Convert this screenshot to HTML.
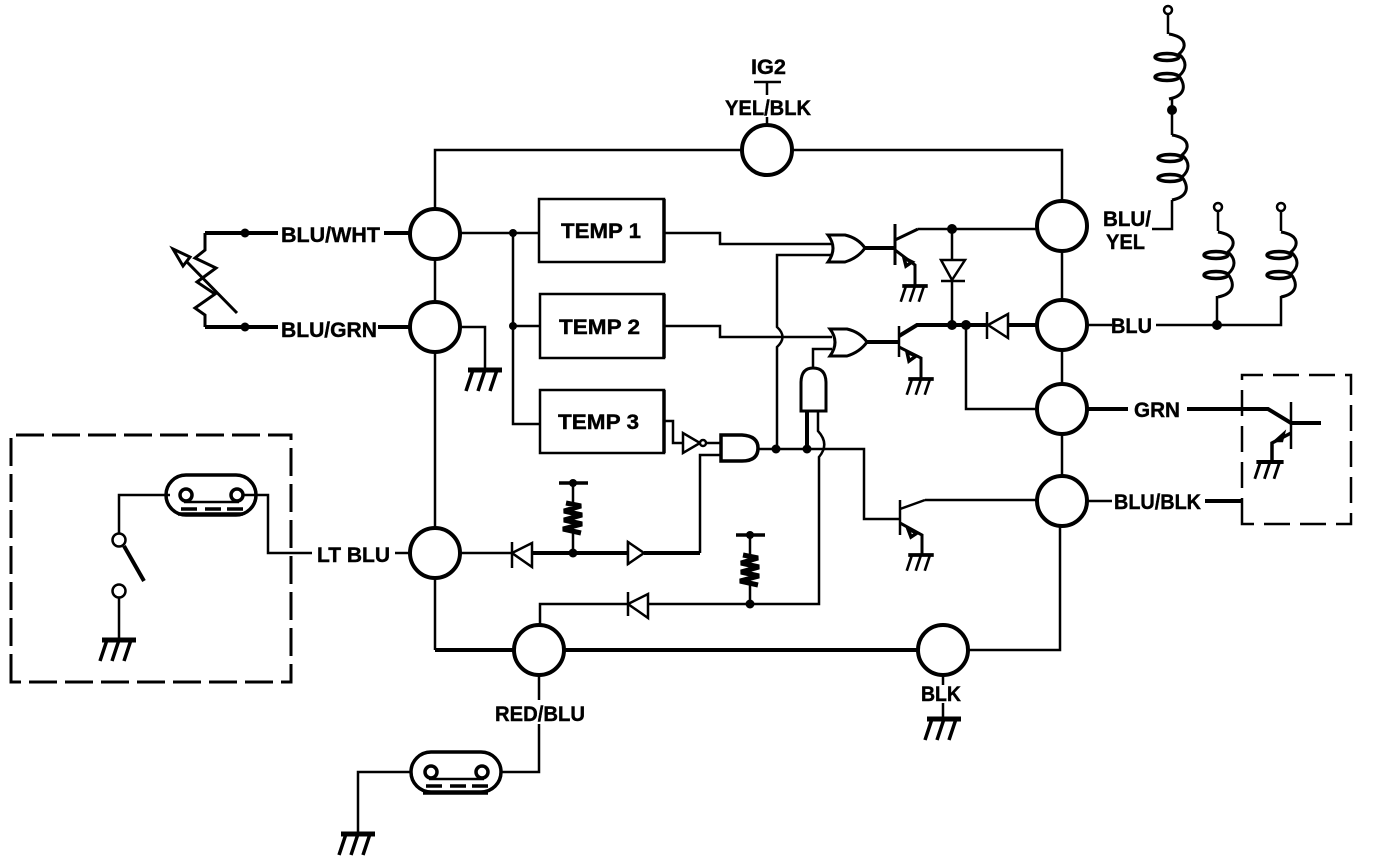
<!DOCTYPE html>
<html>
<head>
<meta charset="utf-8">
<style>
html,body{margin:0;padding:0;background:#fff;}
svg{display:block;}
text{font-family:"Liberation Sans",sans-serif;font-weight:bold;font-size:21px;fill:#000;stroke:#000;stroke-width:.4px;}
</style>
</head>
<body>
<svg width="1376" height="860" viewBox="0 0 1376 860" xmlns="http://www.w3.org/2000/svg">
<defs>
<g id="gnd">
<line x1="-17" y1="0" x2="17" y2="0" stroke-width="5"/>
<line x1="-12" y1="0" x2="-19" y2="21" stroke-width="3.5"/>
<line x1="0" y1="0" x2="-7" y2="21" stroke-width="3.5"/>
<line x1="12" y1="0" x2="5" y2="21" stroke-width="3.5"/>
</g>
<g id="coil">
<path d="M0,0 C15,-3 18,-12 10,-23 C18,-30 18,-38 10,-45 C18,-52 18,-62 0,-65" fill="none"/>
<ellipse cx="-2" cy="-22" rx="12" ry="3.5" fill="#fff" stroke-width="3.5"/>
<ellipse cx="-2" cy="-42" rx="12" ry="3.5" fill="#fff" stroke-width="3.5"/>
</g>
<g id="conn">
<rect x="0" y="0" width="90" height="40" rx="20" fill="none" stroke-width="3.5"/>
<circle cx="20" cy="20" r="6" fill="#fff" stroke-width="3.5"/>
<circle cx="71" cy="20" r="6" fill="#fff" stroke-width="3.5"/>
<line x1="18" y1="27" x2="73" y2="27" stroke-width="2.5"/>
<line x1="15" y1="34" x2="31" y2="34" stroke-width="3.5"/>
<line x1="39" y1="34" x2="55" y2="34" stroke-width="3.5"/>
<line x1="61" y1="34" x2="77" y2="34" stroke-width="3.5"/>
</g>
<g id="res">
<path d="M-7,0 L8,3 L-9,8 L9,12 L-9,17 L9,21 L-10,26 L8,30" fill="none" stroke-width="5"/>
</g>
</defs>

<g fill="none" stroke="#000" stroke-width="2.5">
<!-- main wires -->
<path d="M435,209V150H742M792,150H1062V201"/>
<path d="M435,259V302M435,352V528"/>
<path d="M1062,251V300M1062,350V384M1062,434V476"/>
<path d="M968,650H1060V526"/>
<path d="M435,578V650" />
<path d="M460,233H539M513,233V424H540M513,326H540"/>
<path d="M460,327H485V369"/>
<path d="M664,233H720V244H832"/>
<path d="M777,449V347Q788,337 777,327V255H832"/>
<path d="M664,326H720V337H832"/>
<path d="M813,368V349H832"/>
<path d="M664,421H673V443H683M706,443H721"/>
<path d="M758,449H864V519H899"/>
<path d="M818,411V431Q830,444 819,457V604H648M628,604H540V625"/>
<path d="M721,455H700V553"/>
<path d="M460,553H512"/>
<path d="M573,483V503M573,533V553"/>
<path d="M750,535V555M750,585V604"/>
<path d="M952,229V260M952,281V324"/>
<path d="M966,325V409H1037"/>
<path d="M918,229H1037"/>
<path d="M925,500H1037"/>
<path d="M1152,229H1172V200M1172,135V98"/>
<path d="M1168,34V14"/>
<path d="M1218,211V231M1281,211V231"/>
<path d="M1217,296V325M1281,296V325H1156"/>
<path d="M119,537V495H170M244,495H268V553H312"/>
<path d="M119,597V640"/>
<path d="M395,553H410"/>
<path d="M539,675V700M539,724V772H500M411,772H358V834"/>
<path d="M943,675V685M943,703V718"/>
<path d="M767,82V95M767,117V125"/>
<path d="M1087,325H1112M1112,501H1087"/>

<!-- thick wires -->
<g stroke-width="4">
<path d="M435,650H514M564,650H918"/>
<path d="M205,233H278M384,233H410"/>
<path d="M205,327H278M378,327H410"/>
<path d="M532,553H628M644,553H700"/>
<path d="M865,248H895M867,342H899M899,336L917,325H952"/>
<path d="M952,325H987M1008,325H1037"/>
<path d="M807,411V449"/>
<path d="M1087,409H1128M1187,409H1268L1291,423H1321"/>
<path d="M1205,501H1242"/>
<path d="M124,546L144,581"/>
</g>

<!-- circles -->
<g stroke-width="4" fill="#fff">
<circle cx="767" cy="150" r="25"/>
<circle cx="435" cy="234" r="25"/>
<circle cx="435" cy="327" r="25"/>
<circle cx="435" cy="553" r="25"/>
<circle cx="1062" cy="226" r="25"/>
<circle cx="1062" cy="325" r="25"/>
<circle cx="1062" cy="409" r="25"/>
<circle cx="1062" cy="501" r="25"/>
<circle cx="539" cy="650" r="25"/>
<circle cx="943" cy="650" r="25"/>
</g>

<!-- boxes -->
<g stroke-width="2.5">
<rect x="539" y="199" width="125" height="63"/>
<rect x="540" y="294" width="124" height="64"/>
<rect x="540" y="390" width="124" height="63"/>
</g>
<path d="M664,199V262M664,294V358M664,390V453" stroke-width="3.5"/>

<!-- OR gates -->
<path d="M828,235H845Q858,238 865,248Q858,258 845,262H828Q838,248 828,235Z" fill="#fff" stroke-width="3"/>
<path d="M830,329H847Q860,332 867,342Q860,352 847,356H830Q840,342 830,329Z" fill="#fff" stroke-width="3"/>
<!-- AND gates -->
<path d="M801,411V383Q801,368 813,368Q826,368 826,383V411Z" fill="#fff" stroke-width="3"/>
<path d="M721,435H742Q758,436 758,448Q758,461 742,461H721Z" fill="#fff" stroke-width="3.5"/>
<!-- inverter -->
<path d="M683,433V453L700,443Z" fill="#fff"/>
<circle cx="703" cy="443" r="3" fill="#fff"/>

<!-- transistors -->
<path d="M895,224V265" stroke-width="3"/>
<path d="M895,240L918,229M895,250L915,265V285" stroke-width="3"/>
<path d="M904,258L912,262L906,266Z" stroke-width="3.5"/>
<path d="M899,326V357" stroke-width="2.5"/>
<path d="M899,347L921,358V378" stroke-width="3"/>
<path d="M907,352L916,356L909,361Z" stroke-width="3.5"/>
<path d="M900,500V535" stroke-width="2.5"/>
<path d="M900,509L925,500"/>
<path d="M900,523L922,535V555" stroke-width="3"/>
<path d="M908,529L917,533L911,537Z" stroke-width="3.5"/>
<path d="M1291,402V449" stroke-width="2.5"/>
<path d="M1291,433L1272,443V462" stroke-width="3.5"/>
<path d="M1275,441L1284,433L1282,441Z" stroke-width="2.5"/>

<!-- grounds -->
<use href="#gnd" x="485" y="370"/>
<use href="#gnd" x="119" y="640"/>
<use href="#gnd" x="358" y="834"/>
<use href="#gnd" x="944" y="719"/>
<use href="#gnd" transform="translate(915,286) scale(.75)"/>
<use href="#gnd" transform="translate(921,379) scale(.75)"/>
<use href="#gnd" transform="translate(921,555) scale(.75)"/>
<use href="#gnd" transform="translate(1270,462) scale(.8)"/>

<!-- diodes -->
<path d="M941,260H965L952,280Z" fill="#fff"/>
<path d="M941,281H965M987,312V339M512,542V568M628,541V565M628,592V616"/>
<path d="M988,325L1008,314V338Z" fill="#fff"/>
<path d="M512,553L532,543V567Z" fill="#fff"/>
<path d="M628,542L644,553L628,564Z" fill="#fff"/>
<path d="M628,604L648,594V618Z" fill="#fff"/>

<!-- resistors -->
<use href="#res" x="573" y="503"/>
<use href="#res" x="750" y="555"/>
<path d="M559,483H588M736,535H765" stroke-width="3.5"/>
<path d="M754,82H781"/>

<!-- thermistor -->
<path d="M205,233V250L195,258L216,268L197,282L215,294L195,308L205,315V327" stroke-width="3"/>
<path d="M237,313L187,262" stroke-width="3"/>
<path d="M173,249L190,257L183,266Z" stroke-width="3"/>

<!-- coils -->
<use href="#coil" x="1172" y="200" stroke-width="3"/>
<use href="#coil" x="1172" y="98" transform="translate(-3,1)" stroke-width="3"/>
<use href="#coil" x="1218" y="297" stroke-width="3"/>
<use href="#coil" x="1281" y="297" stroke-width="3"/>
<circle cx="1168" cy="10" r="4" fill="#fff"/>
<circle cx="1218" cy="207" r="4" fill="#fff"/>
<circle cx="1281" cy="207" r="4" fill="#fff"/>

<!-- connectors -->
<use href="#conn" x="166" y="475"/>
<use href="#conn" x="411" y="752"/>
<path d="M178,514H243M423,793H488" stroke-width="3.5"/>

<!-- switch -->
<circle cx="119" cy="540" r="6.5" fill="#fff"/>
<circle cx="119" cy="591" r="6.5" fill="#fff"/>

<!-- dashed boxes -->
<path d="M11,682V435H291V682Z" stroke-dasharray="28,8" stroke-width="3"/>
<path d="M1242,524V375H1351V524Z" stroke-dasharray="26,10" stroke-width="2.5"/>
</g>

<!-- junction dots -->
<g fill="#000">
<circle cx="245" cy="233" r="4.5"/>
<circle cx="245" cy="327" r="4.5"/>
<circle cx="513" cy="233" r="4"/>
<circle cx="513" cy="326" r="4"/>
<circle cx="776" cy="449" r="4.5"/>
<circle cx="807" cy="449" r="4.5"/>
<circle cx="952" cy="229" r="5"/>
<circle cx="952" cy="325" r="5"/>
<circle cx="966" cy="325" r="5"/>
<circle cx="573" cy="483" r="4"/>
<circle cx="573" cy="553" r="4.5"/>
<circle cx="750" cy="535" r="4"/>
<circle cx="750" cy="604" r="4.5"/>
<circle cx="1172" cy="110" r="5"/>
<circle cx="1217" cy="325" r="5"/>
</g>

<!-- labels -->
<text x="751" y="74" textLength="35" lengthAdjust="spacingAndGlyphs">IG2</text>
<text x="725" y="115" textLength="86" lengthAdjust="spacingAndGlyphs">YEL/BLK</text>
<text x="281" y="242" textLength="99" lengthAdjust="spacingAndGlyphs">BLU/WHT</text>
<text x="281" y="337" textLength="96" lengthAdjust="spacingAndGlyphs">BLU/GRN</text>
<text x="317" y="562" textLength="73" lengthAdjust="spacingAndGlyphs">LT BLU</text>
<text x="495" y="721" textLength="90" lengthAdjust="spacingAndGlyphs">RED/BLU</text>
<text x="921" y="701" textLength="40" lengthAdjust="spacingAndGlyphs">BLK</text>
<text x="1103" y="226" textLength="48" lengthAdjust="spacingAndGlyphs">BLU/</text>
<text x="1106" y="249" textLength="39" lengthAdjust="spacingAndGlyphs">YEL</text>
<text x="1111" y="333" textLength="41" lengthAdjust="spacingAndGlyphs">BLU</text>
<text x="1134" y="417" textLength="46" lengthAdjust="spacingAndGlyphs">GRN</text>
<text x="1114" y="509" textLength="87" lengthAdjust="spacingAndGlyphs">BLU/BLK</text>
<text x="561" y="238" textLength="80" lengthAdjust="spacingAndGlyphs">TEMP 1</text>
<text x="559" y="334" textLength="81" lengthAdjust="spacingAndGlyphs">TEMP 2</text>
<text x="558" y="429" textLength="81" lengthAdjust="spacingAndGlyphs">TEMP 3</text>
</svg>
</body>
</html>
